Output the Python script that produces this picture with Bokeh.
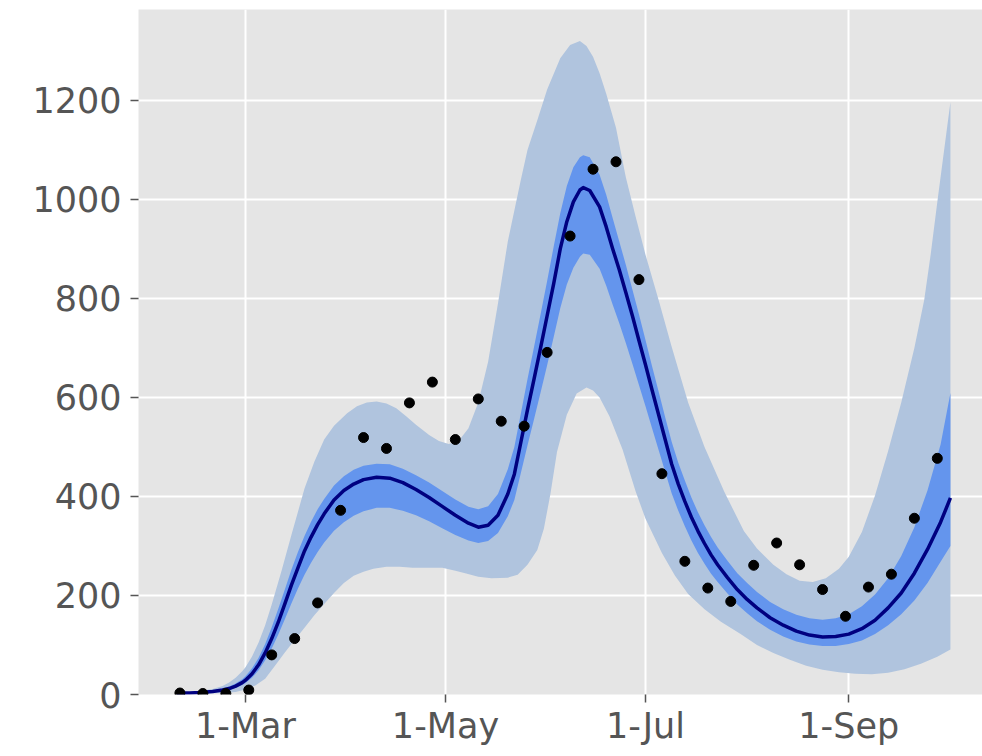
import pandas as pd
from bokeh.plotting import figure
from bokeh.models import FixedTicker, Range1d
from bokeh.embed import file_html
from bokeh.resources import INLINE

# ---------------- data ----------------
base_date = "2020-03-01"
tick_dates = ["2020-03-01", "2020-05-01", "2020-07-01", "2020-09-01"]
tick_labels = ["1-Mar", "1-May", "1-Jul", "1-Sep"]
y_ticks = [0, 200, 400, 600, 800, 1000, 1200]

# weekly observations (days after base_date)
obs_days = [-20, -13, -6, 1, 8, 15, 22, 29, 36, 43, 50, 57, 64, 71, 78, 85, 92,
            99, 106, 113, 120, 127, 134, 141, 148, 155, 162, 169, 176, 183, 190,
            197, 204, 211]
obs_values = [3, 2, 2, 9, 80, 113, 185, 372, 519, 497, 589, 631, 515, 597, 552,
              542, 691, 926, 1061, 1076, 838, 446, 269, 215, 188, 261, 306, 262,
              212, 158, 217, 243, 356, 477]

# model estimate and 50% interval
fit_days = [-21, -17, -14, -10, -7, -5, -3, -1,
            0, 2, 4, 6, 8, 10, 12, 14, 16, 18, 20, 22, 24,
            27, 30, 33, 36,
            40, 44, 48, 52, 56, 60, 64, 68,
            71, 74, 77, 80,
            82, 84, 86, 88, 90, 92, 94, 96, 98, 100, 102,
            103, 105, 108,
            110, 112, 114, 116, 118, 120, 122, 124, 126, 128, 130, 132, 134, 136, 138, 140, 142, 144,
            147, 150, 153, 156,
            160, 164, 168, 172, 176, 180, 184, 188, 192, 196, 200, 204, 208, 212,
            215]
fit_mean = [3, 3, 4, 6, 9, 12, 17, 24,
            29, 42, 60, 84, 113, 146, 183, 221, 256, 290, 318, 343, 365,
            393, 412, 425, 434,
            439, 437, 428, 414, 398, 380, 362, 346,
            338, 342, 362, 405,
            445, 510, 575, 637, 700, 765, 830, 900, 955, 995, 1019,
            1024, 1018, 985,
            945, 900, 858, 812, 765, 715, 666, 615, 565, 515, 465, 425, 390, 358, 330, 305, 282, 262,
            236, 212, 192, 175,
            155, 140, 128, 120, 116, 117, 122, 133, 150, 175, 205, 245, 293, 348,
            397]
fit_hi50 = [4, 4, 5, 8, 12, 16, 22, 31,
            37, 53, 74, 102, 136, 173, 212, 252, 288, 320, 349, 374, 395,
            422, 441, 454, 462,
            466, 465, 456, 443, 428, 411, 394, 379,
            374, 380, 405, 455,
            500, 568, 637, 702, 768, 835, 905, 972, 1027, 1065, 1085,
            1089, 1085, 1050,
            1010, 962, 915, 868, 818, 768, 716, 663, 612, 560, 510, 468, 432, 398, 368, 342, 318, 297,
            270, 245, 225, 207,
            187, 172, 161, 154, 151, 154, 162, 178, 202, 235, 280, 338, 412, 505,
            609]
fit_lo50 = [2, 2, 3, 5, 7, 9, 13, 19,
            23, 34, 49, 69, 93, 121, 152, 184, 214, 242, 266, 288, 307,
            331, 348, 361, 370,
            377, 377, 371, 362, 350, 336, 322, 311,
            306, 310, 326, 360,
            393, 448, 503, 556, 610, 665, 722, 780, 828, 862, 884,
            891, 888, 860,
            826, 787, 750, 710, 668, 625, 582, 538, 494, 450, 406, 371, 340, 311, 286, 264, 244, 227,
            204, 182, 164, 148,
            131, 117, 107, 101, 98, 98, 102, 109, 122, 140, 162, 190, 225, 268,
            300]

# 95% interval, upper edge
hi95_days = [-21, -17, -14, -10, -7, -5, -3, -1, 0, 2, 4, 6, 8, 11, 14, 18, 21, 24,
             27, 31, 34, 37, 40, 43, 46, 49, 52, 56, 59, 62, 65, 68, 71, 74, 77,
             80, 84, 86, 89, 92, 96, 99, 102, 104, 106, 108, 110, 113, 116, 119,
             122, 126, 130, 135, 140, 146, 152, 156, 161, 165, 169, 173, 177, 181,
             184, 188, 192, 196, 200, 204, 207, 209, 211, 215]
hi95_values = [4, 5, 7, 11, 17, 24, 34, 47, 55, 77, 105, 140, 182, 250, 322, 416,
               470, 515, 543, 568, 582, 590, 592, 588, 578, 562, 545, 524, 512,
               506, 512, 538, 590, 672, 790, 915, 1040, 1100, 1160, 1222, 1285,
               1312, 1320, 1310, 1288, 1255, 1214, 1145, 1045, 965, 888, 797, 702,
               590, 500, 410, 330, 295, 262, 243, 230, 227, 235, 254,
               278, 328, 402, 492, 590, 700, 797, 890, 995, 1197]

# 95% interval, lower edge
lo95_days = [-21, -14, -7, -3, 0, 3, 6, 9, 12, 15, 18, 21, 24, 27, 30, 33, 36, 39,
             43, 47, 51, 56, 60, 64, 67, 71, 75, 80, 83, 86, 89, 91, 93, 95, 98,
             101, 104, 106, 108, 111, 115, 119, 122, 127, 131, 135, 140, 145, 151,
             156, 161, 166, 171, 176, 181, 186, 191, 196, 201, 206, 211, 215]
lo95_values = [2, 2, 3, 5, 10, 18, 32, 58, 85, 110, 135, 160, 183, 205, 225, 240,
               248, 254, 258, 258, 256, 256, 256, 250, 245, 238, 235, 236, 242,
               262, 292, 335, 405, 490, 565, 608, 620, 614, 600, 562, 495, 410,
               355, 286, 240, 203, 172, 147, 122, 100, 84, 70, 58, 50, 45, 42, 41,
               44, 51, 62, 76, 91]

# ---------------- helpers ----------------
base = pd.Timestamp(base_date)


def to_ms(days):
    return [(base + pd.Timedelta(days=d)).value / 1e6 for d in days]


tick_ms = [pd.Timestamp(d).value / 1e6 for d in tick_dates]

# ---------------- figure ----------------
p = figure(width=982, height=748, x_axis_type="datetime",
           output_backend="svg", toolbar_location=None,
           min_border_left=138, min_border_right=0,
           min_border_top=9, min_border_bottom=53)
p.title.visible = False

p.x_range = Range1d(start=to_ms([-32.63])[0], end=to_ms([224.78])[0])
p.y_range = Range1d(start=0, end=1383.6)

p.background_fill_color = "#E5E5E5"
p.border_fill_color = "white"
p.outline_line_color = None

# 95% band
x95 = to_ms(hi95_days) + to_ms(lo95_days)[::-1]
y95 = hi95_values + lo95_values[::-1]
p.patch(x95, y95, fill_color="#B0C4DE", line_color=None)

# 50% band
fx = to_ms(fit_days)
p.patch(fx + fx[::-1], fit_hi50 + fit_lo50[::-1], fill_color="#6495ED", line_color=None)

# estimate line
p.line(fx, fit_mean, line_color="#000080", line_width=3.5, line_join="round")

# observations
p.scatter(to_ms(obs_days), obs_values, size=10, fill_color="black", line_color="black")

# axes
for ax in (p.xaxis[0], p.yaxis[0]):
    ax.axis_line_color = None
    ax.major_tick_line_color = "#555555"
    ax.major_tick_line_width = 1.5
    ax.major_tick_out = 8
    ax.major_tick_in = 0
    ax.minor_tick_line_color = None
    ax.major_label_text_font = "DejaVu Sans"
    ax.major_label_text_font_size = "35px"
    ax.major_label_text_color = "#555555"

p.xaxis[0].ticker = FixedTicker(ticks=tick_ms)
p.xaxis[0].major_label_overrides = {t: lab for t, lab in zip(tick_ms, tick_labels)}
p.xaxis[0].major_label_standoff = 3

p.yaxis[0].ticker = FixedTicker(ticks=y_ticks)
p.yaxis[0].major_label_standoff = 9

p.xgrid[0].grid_line_color = "white"
p.xgrid[0].grid_line_width = 2
p.ygrid[0].grid_line_color = "white"
p.ygrid[0].grid_line_width = 2

open("out.html", "w").write(file_html(p, INLINE))
